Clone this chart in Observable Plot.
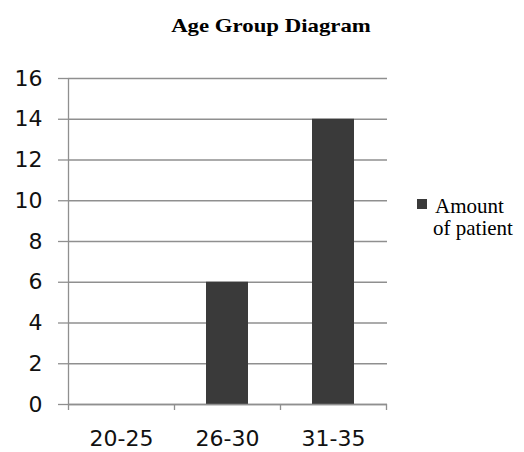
<!DOCTYPE html>
<html><head><meta charset="utf-8">
<script src="https://cdn.jsdelivr.net/npm/d3@7"></script>
<script src="https://cdn.jsdelivr.net/npm/@observablehq/plot@0.6"></script>
<style>
body{margin:0;background:#fff;}
#wrap{position:relative;width:524px;height:452px;}
#wrap svg{position:absolute;left:0;top:0;z-index:0;}
#wrap svg text{font-size:22px;font-family:"DejaVu Sans",sans-serif;}
#title{position:absolute;z-index:2;left:271px;top:16px;white-space:nowrap;font:bold 19px/1 "Liberation Serif",serif;color:#000;transform:translateX(-50%) scaleX(1.2);}
.leg{position:absolute;z-index:2;white-space:nowrap;font:21px/22px "Liberation Serif",serif;color:#000;}
#sw{position:absolute;z-index:2;left:417px;top:199px;width:10px;height:10px;background:#3a3a3a;}
</style></head>
<body><div id="wrap"><div id="title"></div><div id="sw"></div><div class="leg" id="l1" style="left:435px;top:195px"></div><div class="leg" id="l2" style="left:433px;top:217px"></div></div>
<script>
const titleText = "Age Group Diagram";
const seriesName = "Amount of patient";
const categories = ["20-25", "26-30", "31-35"];
const values = [0, 6, 14];
const yTicks = [0, 2, 4, 6, 8, 10, 12, 14, 16];

const data = categories.map((c, i) => ({group: c, value: values[i]}));
const half = 53;
const lineColor = "#8f8f8f";

const chart = Plot.plot({
  width: 524,
  height: 452,
  marginLeft: 68,
  marginRight: 137,
  marginTop: 78,
  marginBottom: 48,
  style: {fontFamily: "'DejaVu Sans', sans-serif", fontSize: "22px", color: "#000", background: "#fff"},
  x: {domain: categories, paddingInner: 0.6, paddingOuter: 0.3, label: null},
  y: {domain: [0, 16], ticks: yTicks, label: null},
  marks: [
    Plot.gridY(yTicks, {stroke: lineColor, strokeOpacity: 1, strokeWidth: 1.3}),
    Plot.axisY(yTicks, {tickSize: 10, tickPadding: 16, stroke: lineColor, strokeWidth: 1.3, label: null, fill: "#111"}),
    Plot.barY(data, {x: "group", y: "value", fill: "#3a3a3a"}),
    Plot.ruleY([0], {stroke: lineColor, strokeWidth: 1.3}),
    Plot.ruleX([categories[0]], {dx: -half, stroke: lineColor, strokeWidth: 1.3}),
    Plot.axisX(categories, {tickSize: 6, dx: half, text: null, stroke: lineColor, strokeWidth: 1.3, label: null}),
    Plot.axisX([categories[0]], {tickSize: 6, dx: -half, text: null, stroke: lineColor, strokeWidth: 1.3, label: null}),
    Plot.axisX(categories, {tickSize: 0, tickPadding: 26, fill: "#111", label: null})
  ]
});
const wrap = document.getElementById("wrap");
wrap.insertBefore(chart, wrap.firstChild);
document.getElementById("title").textContent = titleText;
const words = seriesName.split(" ");
document.getElementById("l1").textContent = words[0];
document.getElementById("l2").textContent = words.slice(1).join(" ");
</script></body></html>
